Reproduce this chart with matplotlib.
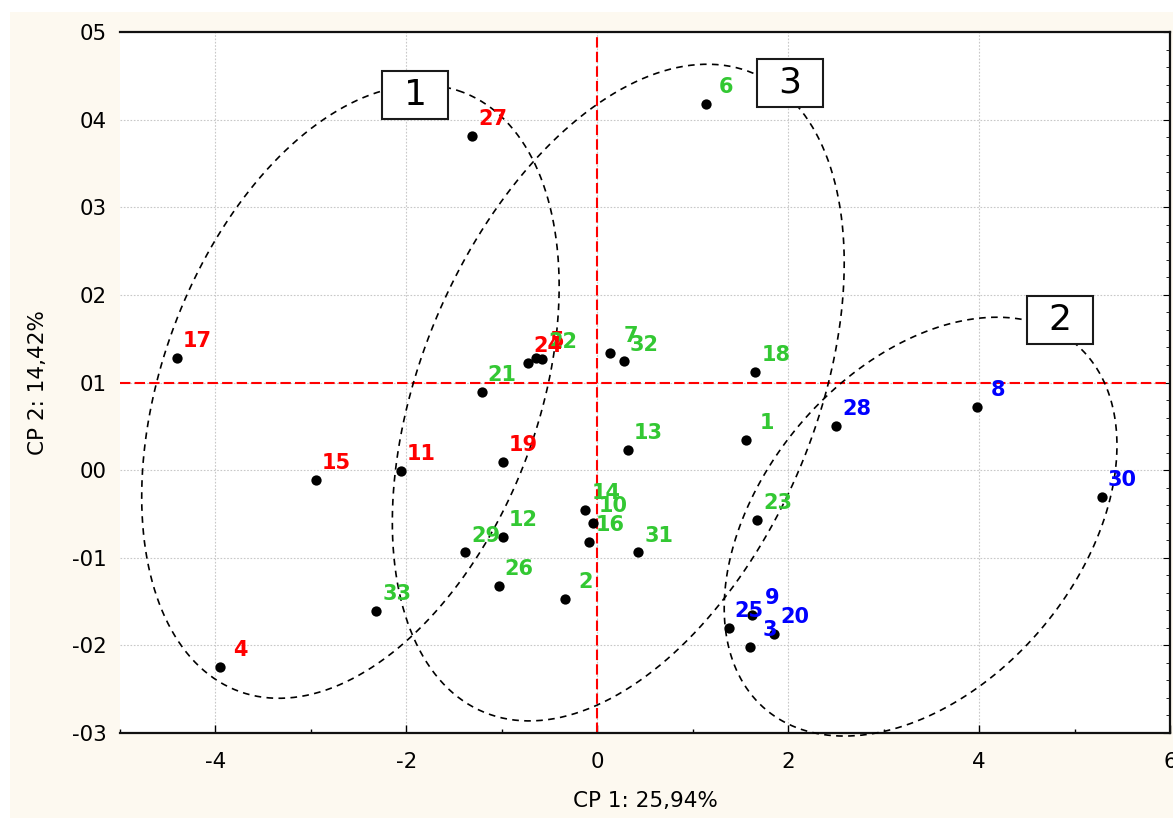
import numpy as np
import matplotlib
matplotlib.use("Agg")
import matplotlib.pyplot as plt
from matplotlib.patches import Rectangle

# ---- scores on the first two principal components ----
sample_ids = list(range(1, 34))
cp1 = [1.557, -0.340, 1.595, -3.950, -0.640, 1.138, 0.133, 3.982, 1.616, -0.045,
       -2.056, -0.990, 0.320, -0.126, -2.945, -0.084, -4.405, 1.654, -0.990, 1.850,
       -1.210, -0.580, 1.675, -0.730, 1.375, -1.033, -1.312, 2.503, -1.386, 5.285,
       0.430, 0.276, -2.318]
cp2 = [0.0346, -0.147, -0.2017, -0.225, 0.128, 0.418, 0.134, 0.0723, -0.1655, -0.060,
       -0.001, -0.076, 0.023, -0.045, -0.011, -0.082, 0.128, 0.112, 0.0095, -0.187,
       0.089, 0.127, -0.0567, 0.122, -0.180, -0.132, 0.3816, 0.0506, -0.094, -0.0304,
       -0.094, 0.124, -0.161]
# group membership: 1 = red, 2 = blue, 3 = green
group = [3, 3, 2, 1, 1, 3, 3, 2, 2, 3,
         1, 3, 3, 3, 1, 3, 1, 3, 1, 2,
         3, 3, 3, 1, 2, 3, 1, 2, 3, 2,
         3, 3, 3]

# ---- group ellipses: centre (cp1, cp2), semi-axes (cp1 units), tilt (deg) ----
cluster_names = ["1", "2", "3"]
ell_center_x = [-2.586, 3.387, 0.220]
ell_center_y = [0.0896, -0.0645, 0.0885]
ell_semi_a = [3.35, 2.51, 3.632]
ell_semi_b = [1.97, 1.657, 2.060]
ell_tilt = [69.5, 49.7, 67.06]
# anchor of each group's boxed number
tag_x = [-1.906, 4.843, 2.016]
tag_y = [0.428, 0.171, 0.442]

# ---- axes ----
x_ticks = [-4, -2, 0, 2, 4, 6]
x_ticklabels = ["-4", "-2", "0", "2", "4", "6"]
y_ticks = [-0.3, -0.2, -0.1, 0.0, 0.1, 0.2, 0.3, 0.4, 0.5]
y_ticklabels = ["-03", "-02", "-01", "00", "01", "02", "03", "04", "05"]
x_label = "CP 1: 25,94%"
y_label = "CP 2: 14,42%"
ref_x = 0.0
ref_y = 0.1

group_colors = {1: "#ff0000", 2: "#0000ff", 3: "#33c833"}

W, H = 1173, 818
fig = plt.figure(figsize=(W / 100, H / 100), dpi=100)
fig.patch.set_facecolor("white")
fig.patches.append(Rectangle((10 / W, 0), 1 - 10 / W, 1 - 12 / H,
                             transform=fig.transFigure, facecolor="#fdf9f0",
                             edgecolor="none", zorder=-10))

ax = fig.add_axes([120 / W, 85 / H, 1050 / W, 701 / H])
ax.set_facecolor("white")
ax.set_xlim(-5, 6)
ax.set_ylim(-0.3, 0.5)

ax.set_xticks(x_ticks)
ax.set_xticklabels(x_ticklabels)
ax.set_yticks(y_ticks)
ax.set_yticklabels(y_ticklabels)
ax.set_xticks(np.arange(-5, 7, 1), minor=True)
ax.set_yticks(np.arange(-0.3, 0.5001, 0.02), minor=True)

ax.tick_params(axis="both", which="major", labelsize=15.4, direction="in")
ax.tick_params(axis="x", which="major", length=6, width=1, pad=13.7, top=False)
ax.tick_params(axis="x", which="minor", length=3, width=1, direction="in", top=False)
ax.tick_params(axis="y", which="major", length=0, pad=9.4, right=True)
ax.tick_params(axis="y", which="minor", length=0, direction="in")
for t in ax.yaxis.get_major_ticks():
    t.tick2line.set_markersize(5)
for t in ax.yaxis.get_minor_ticks():
    t.tick1line.set_visible(False)
    t.tick2line.set_visible(True)
    t.tick2line.set_markersize(3)

for side in ["top", "bottom", "right"]:
    ax.spines[side].set_linewidth(1.6)
    ax.spines[side].set_color("#111111")
ax.spines["left"].set_visible(False)

ax.set_axisbelow(True)
ax.grid(True, which="major", color="#c8c8c8", linestyle=(0, (1.5, 1.5)), linewidth=0.8)

ax.set_xlabel(x_label, fontsize=15.5)
ax.set_ylabel(y_label, fontsize=15.5)
ax.xaxis.set_label_coords(0.5, -0.083)
ax.yaxis.label.set_va("center")
ax.yaxis.set_label_coords(-0.078, 0.5)

# reference lines
ax.axvline(ref_x, color="red", linestyle=(0, (5, 2)), linewidth=1.5, zorder=2)
ax.axhline(ref_y, color="red", linestyle=(0, (5, 2)), linewidth=1.5, zorder=2)

# group ellipses drawn in screen-proportional units
bbox = ax.get_window_extent()
px_x = bbox.width / 11.0
px_y = bbox.height / 0.8
ratio = px_y / px_x
t = np.linspace(0, 2 * np.pi, 400)
for cx, cy, a, b, ang in zip(ell_center_x, ell_center_y, ell_semi_a, ell_semi_b, ell_tilt):
    th = np.deg2rad(ang)
    ex = cx + a * np.cos(t) * np.cos(th) - b * np.sin(t) * np.sin(th)
    ey = cy + (a * np.cos(t) * np.sin(th) + b * np.sin(t) * np.cos(th)) / ratio
    ax.plot(ex, ey, color="black", linewidth=1.2, linestyle=(0, (4, 3.2)),
            zorder=3, clip_on=False)

# boxed group numbers
box_w = 66 / px_x
box_h = 48 / px_y
for name, bx, by in zip(cluster_names, tag_x, tag_y):
    ax.add_patch(Rectangle((bx - box_w / 2, by - box_h / 2), box_w, box_h,
                           facecolor="white", edgecolor="#1a1a1a", linewidth=1.5,
                           zorder=5))
    ax.text(bx, by, name, fontsize=26, ha="center", va="center", color="black",
            zorder=6)

# sample points with their numbers
ax.scatter(cp1, cp2, s=55, color="black", zorder=4, linewidths=0)
for sid, x, y, g in zip(sample_ids, cp1, cp2, group):
    ax.annotate(str(sid), (x, y), xytext=(14.8, 7.8), textcoords="offset points",
                ha="center", va="baseline", fontsize=15, fontweight="bold",
                color=group_colors[g], zorder=7)

fig.savefig("out.png", dpi=100)
